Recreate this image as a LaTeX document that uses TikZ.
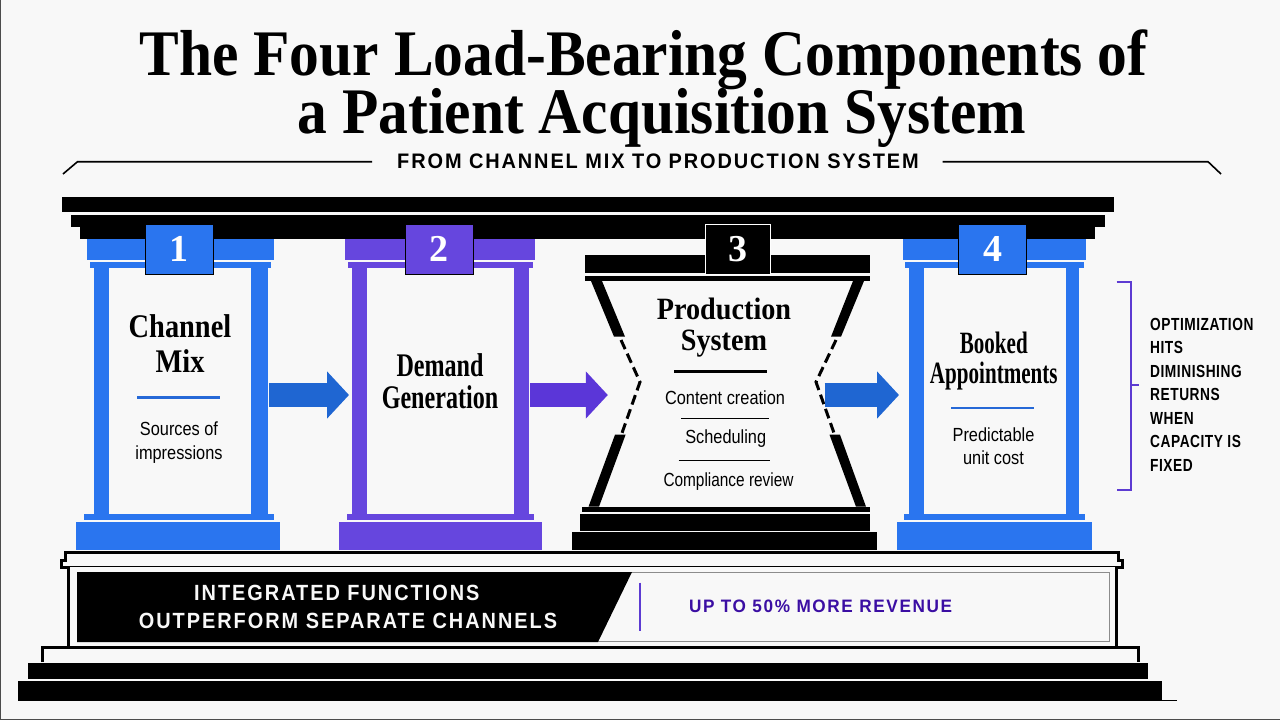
\documentclass[tikz,border=0pt]{standalone}
\usepackage{fontspec}
\setmainfont{Liberation Sans}
\newfontfamily\titlefont[FakeStretch=0.915]{Liberation Serif}
\newfontfamily\headfont[FakeStretch=0.86]{Liberation Serif}
\newfontfamily\headwide[FakeStretch=0.91]{Liberation Serif}
\newfontfamily\headnarrow[FakeStretch=0.73]{Liberation Serif}
\newfontfamily\headtight[FakeStretch=0.68]{Liberation Serif}
\newfontfamily\numfont{Liberation Serif}
\newfontfamily\capsfont[FakeStretch=0.95,LetterSpace=9]{Liberation Sans}
\newfontfamily\claimfont[FakeStretch=0.905,LetterSpace=9]{Liberation Sans}
\newfontfamily\gainfont[FakeStretch=0.955,LetterSpace=9]{Liberation Sans}
\newfontfamily\sidefont[FakeStretch=0.785,LetterSpace=3]{Liberation Sans}
\newfontfamily\subfont[FakeStretch=0.86]{Liberation Sans}
\newfontfamily\subtight[FakeStretch=0.81]{Liberation Sans}
\usetikzlibrary{arrows.meta}
\definecolor{paper}{HTML}{F8F8F8}
\definecolor{pblue}{HTML}{2A75EF}
\definecolor{pviolet}{HTML}{6646DE}
\definecolor{dblue}{HTML}{1F66D2}
\definecolor{dviolet}{HTML}{5B36D8}
\definecolor{ink}{HTML}{3B0EA3}
\tikzset{
  titlenode/.style = {anchor=base, inner sep=0pt, font=\titlefont\bfseries\fontsize{65}{65}\selectfont},
  headnode/.style = {align=center, inner sep=0pt, font=\headfont\bfseries\fontsize{33}{34.5}\selectfont},
  subnode/.style = {align=center, inner sep=0pt, font=\subfont\fontsize{19}{23.5}\selectfont},
  badge/.style = {minimum width=68pt, minimum height=50pt, inner sep=0pt, draw=black, line width=0.8pt, text=white, font=\numfont\bfseries\fontsize{38}{38}\selectfont},
  capsnode/.style = {align=center, inner sep=0pt, font=\capsfont\bfseries},
  claimnode/.style = {inner sep=0pt, text=paper, font=\claimfont\bfseries\fontsize{22}{22}\selectfont},
  blockarrow/.style = {line width=23.4pt, -{Triangle[length=22pt,width=46pt]}},
  stone/.style = {fill=black},
  edge/.style = {draw=black, line width=3pt, fill=paper, line join=miter}
}
\begin{document}
\begin{tikzpicture}[x=1pt,y=-1pt]
	\fill[paper] (0,0) rectangle (1280,720);
	\useasboundingbox (0,0) rectangle (1280,720);
	\draw[black!70,line width=1pt] (0.5,0) -- (0.5,719) -- (1280,719);

	% heading
	\node[titlenode] (title1) at (643.5,75) {The Four Load-Bearing Components of};
	\node[titlenode] (title2) at (662,133.3) {a Patient Acquisition System};
	\node[capsnode,font=\capsfont\bfseries\fontsize{21}{21}\selectfont] (subtitle) at (658,161.7) {FROM CHANNEL MIX TO PRODUCTION SYSTEM};
	\draw[line width=1.6pt] (63,174) -- (77.5,161.7) -- (372,161.7);
	\draw[line width=1.6pt] (942.5,161.7) -- (1208,161.7) -- (1221,174);

	% entablature
	\fill[stone] (62,197.3) rectangle (1114,211.7);
	\fill[stone] (71.4,215) rectangle (1105,226.7);
	\fill[stone] (80,226.7) rectangle (1095,239.3);

	% pillar 1
	\begin{scope}[pblue]
		\fill (87,239.3) rectangle (274,260);
		\fill (90,262.3) rectangle (271.4,268);
		\fill (93.5,268) rectangle (109.4,514.3);
		\fill (250.6,268) rectangle (267.7,514.3);
		\fill (84,514.3) rectangle (274,520.3);
		\fill (76,522.3) rectangle (279.6,550);
	\end{scope}
	\node[badge,fill=pblue] (num1) at (179,249) {1};
	% pillar 2
	\begin{scope}[pviolet]
		\fill (345,239.3) rectangle (535,260);
		\fill (347.8,262.3) rectangle (532.6,268);
		\fill (351.8,268) rectangle (367.3,514.3);
		\fill (513.5,268) rectangle (528.6,514.3);
		\fill (346.5,514.3) rectangle (534.3,520.3);
		\fill (339,522.3) rectangle (542,550);
	\end{scope}
	\node[badge,fill=pviolet] (num2) at (439,249) {2};
	% pillar 4
	\begin{scope}[pblue]
		\fill (903,239.3) rectangle (1086,260);
		\fill (905,262.3) rectangle (1084,268);
		\fill (909,268) rectangle (923.6,514.3);
		\fill (1065.5,268) rectangle (1079,514.3);
		\fill (904,514.3) rectangle (1085,520.3);
		\fill (897,522.3) rectangle (1092,550);
	\end{scope}
	\node[badge,fill=pblue] (num4) at (992.5,249) {4};

	% pillar 3, the narrowed one
	\fill[stone] (585,255.3) rectangle (870,273.3);
	\fill[stone] (585,276) rectangle (870,281);
	\fill[stone] (591,281) -- (602,281) -- (625,336.7) -- (614,336.7) -- cycle;
	\fill[stone] (853,281) -- (864,281) -- (841,336.7) -- (831,336.7) -- cycle;
	\fill[stone] (615,434.7) -- (625.6,434.7) -- (599,506.7) -- (588.5,506.7) -- cycle;
	\fill[stone] (829.5,434.7) -- (840,434.7) -- (866,506.7) -- (856,506.7) -- cycle;
	\draw[line width=3pt,dash pattern=on 10pt off 5pt] (621,340) -- (640,382) -- (622,433);
	\draw[line width=3pt,dash pattern=on 10pt off 5pt] (836,340) -- (816,382) -- (834,433);
	\fill[stone] (581.6,506.7) rectangle (870,512);
	\fill[stone] (580,514.3) rectangle (870,530.7);
	\fill[stone] (572,532.3) rectangle (877,550);
	\node[badge,fill=black,draw=white,minimum width=65pt] (num3) at (737.5,249) {3};

	% pillar labels
	\node[headnode] (mix) at (180,343.5) {Channel\\Mix};
	\draw[pblue!90!black,line width=2.6pt] (137,397.7) -- (220,397.7);
	\node[subnode] (mixsub) at (179,442.5) {Sources of\\impressions};
	\node[headnode,font=\headnarrow\bfseries\fontsize{33}{32}\selectfont] (demand) at (440,381) {Demand\\Generation};
	\node[headnode,font=\headwide\bfseries\fontsize{31}{31}\selectfont] (prod) at (724,328) {Production\\System};
	\draw[line width=2.6pt] (674,371.7) -- (767,371.7);
	\node[subnode] (task1) at (725,397.7) {Content creation};
	\draw[line width=0.8pt] (681,418.3) -- (769,418.3);
	\node[subnode] (task2) at (725.7,439) {Scheduling};
	\draw[line width=0.8pt] (678.5,460) -- (770,460);
	\node[subnode,font=\subtight\fontsize{19}{23.5}\selectfont] (task3) at (728.5,481.7) {Compliance review};
	\node[headnode,font=\headtight\bfseries\fontsize{31}{30}\selectfont] (booked) at (993.8,361) {Booked\\Appointments};
	\draw[pblue!90!black,line width=2.6pt] (951,408) -- (1034,408);
	\node[subnode] (booksub) at (993.5,446) {Predictable\\unit cost};

	% arrows between the pillars
	\coordinate (a1) at (269.4,395);
	\coordinate (b1) at (349,395);
	\coordinate (a2) at (530,395);
	\coordinate (b2) at (607.8,395);
	\coordinate (a3) at (824.5,395);
	\coordinate (b3) at (899,395);
	\draw[blockarrow,dblue] (a1) -- (b1);
	\draw[blockarrow,dviolet] (a2) -- (b2);
	\draw[blockarrow,dblue] (a3) -- (b3);

	% bracket and remark
	\coordinate (brtop) at (1116.5,281.7);
	\coordinate (brbot) at (1116.5,489.7);
	\draw[pviolet!80!ink,line width=2.4pt] (brtop) -| (1131,489.7) -- (brbot);
	\draw[pviolet!80!ink,line width=2.4pt] (1131,385) -- (1138.5,385);
	\node[inner sep=0pt,align=left,anchor=north west,font=\sidefont\bfseries\fontsize{17.5}{23.45}\selectfont] (remark) at (1150,318) {OPTIMIZATION\\HITS\\DIMINISHING\\RETURNS\\WHEN\\CAPACITY IS\\FIXED};

	% platform
	\draw[edge] (65,552) -- (1118,552) -- (1118,560) -- (1122,560) -- (1122,567) -- (61.5,567) -- (61.5,560) -- (65,560) -- cycle;
	\draw[edge] (68.7,567) -- (68.7,647) -- (1116,647) -- (1116,567);
	\draw[edge] (42.3,662) -- (42.3,647) -- (1138.5,647) -- (1138.5,662);
	\fill[stone] (28,662.7) rectangle (1148,679);
	\fill[stone] (18,681.3) rectangle (1162,701);
	\draw[line width=0.8pt] (1162,700.5) -- (1176.6,700.5);
	\draw[black!45,line width=0.8pt] (77,572) rectangle (1109.6,641.7);
	\fill[stone] (77,572) -- (632,572) -- (598,642) -- (77,642) -- cycle;
	\node[claimnode] (claim1) at (336.8,592.7) {INTEGRATED FUNCTIONS};
	\node[claimnode] (claim2) at (348,620.7) {OUTPERFORM SEPARATE CHANNELS};
	\draw[pviolet!80!ink,line width=2pt] (640.3,582.7) -- (640.3,630.7);
	\node[capsnode,text=ink,font=\gainfont\bfseries\fontsize{18}{18}\selectfont] (gain) at (820.6,606.7) {UP TO 50\% MORE REVENUE};
\end{tikzpicture}
\end{document}
